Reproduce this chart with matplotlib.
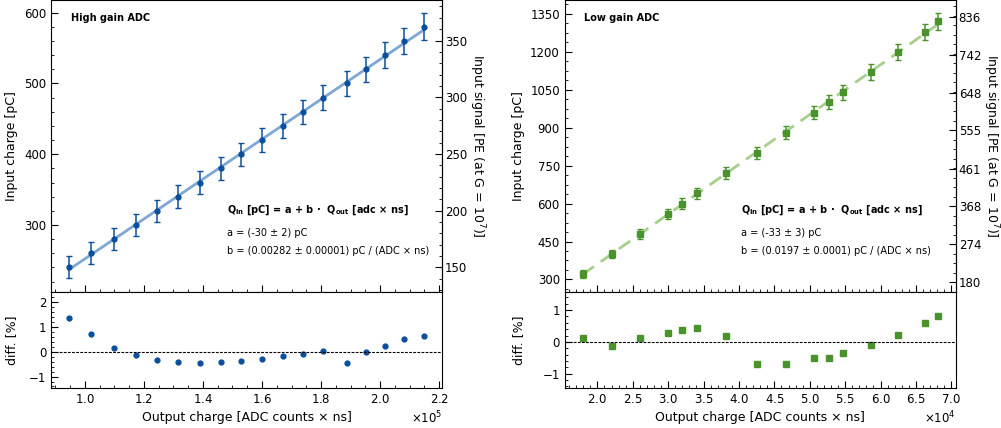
import matplotlib
matplotlib.use("Agg")
import matplotlib.pyplot as plt
import numpy as np
from matplotlib.ticker import AutoMinorLocator, MultipleLocator


# ---------------------------------------------------
# DATA
# ---------------------------------------------------

# high gain ADC
hg_qout = [0.946, 1.022, 1.098, 1.172, 1.245, 1.317, 1.389, 1.460, 1.530,
           1.600, 1.670, 1.739, 1.808, 1.887, 1.951, 2.017, 2.082, 2.150]  # x 1e5
hg_qin = [240, 260, 280, 300, 320, 340, 360, 380, 400,
          420, 440, 460, 480, 500, 520, 540, 560, 580]
hg_err = [15.6, 15.4, 15.6, 15.8, 15.9, 16.0, 16.1, 16.3, 16.4,
          16.6, 16.8, 17.0, 17.2, 17.5, 17.9, 18.4, 18.6, 19.2]
hg_diff = [1.36, 0.70, 0.16, -0.14, -0.34, -0.42, -0.45, -0.43, -0.38,
           -0.31, -0.19, -0.08, 0.03, -0.44, -0.03, 0.23, 0.51, 0.65]
hg_a, hg_b = -30, 0.00282

# low gain ADC
lg_qout = [1.790, 2.201, 2.601, 3.002, 3.202, 3.402, 3.815, 4.257,
           4.665, 5.066, 5.269, 5.466, 5.859, 6.245, 6.626, 6.814]  # x 1e4
lg_qin = [320, 400, 480, 560, 600, 640, 720, 800,
          880, 960, 1000, 1040, 1120, 1200, 1280, 1320]
lg_err = [16, 17, 18.5, 19.5, 20.5, 21.5, 23.5, 25,
          26, 27.5, 28, 29, 30.5, 31.5, 32, 32.5]
lg_diff = [0.13, -0.14, 0.13, 0.28, 0.36, 0.44, 0.20, -0.69,
           -0.68, -0.51, -0.50, -0.36, -0.11, 0.23, 0.60, 0.81]
lg_a, lg_b = -33, 0.0197

lg_pe_ticks = [180, 274, 368, 461, 555, 648, 742, 836]

PC_PER_PE = 1.602  # charge of one PE at G = 1e7, in pC

plt.rcParams["font.family"] = "DejaVu Sans"
plt.rcParams["xtick.labelsize"] = 8.5
plt.rcParams["ytick.labelsize"] = 8.5
plt.rcParams["axes.labelsize"] = 9


def style_ticks(ax):
    ax.tick_params(which="both", direction="in", top=False, right=False)
    ax.tick_params(which="major", length=5)
    ax.tick_params(which="minor", length=2.5)
    ax.xaxis.set_minor_locator(AutoMinorLocator())
    ax.yaxis.set_minor_locator(AutoMinorLocator())


def draw_panel(fig, gs, col, qout, scale, qin, err, diff, a, b,
               color, line_color, marker, ms, ls, title, a_txt, b_txt,
               diff_lim, x_step, y_step, pe_step=None, pe_ticks=None):

    ax = fig.add_subplot(gs[0, col])
    axr = fig.add_subplot(gs[1, col], sharex=ax)

    x = np.array(qout) * scale

    xfit = np.array([x.min(), x.max()])
    ax.plot(xfit, a + b * xfit, color=line_color, lw=2, ls=ls, zorder=1)

    ax.errorbar(x, qin, yerr=err, fmt=marker, color=color, ms=ms,
                elinewidth=1.1, capsize=2, capthick=1, zorder=2)

    ax.set_ylabel("Input charge [pC]")
    ax.yaxis.set_major_locator(MultipleLocator(y_step))
    ax.xaxis.set_major_locator(MultipleLocator(x_step))
    style_ticks(ax)
    ax.tick_params(labelbottom=False)

    sec = ax.secondary_yaxis(
        "right",
        functions=(lambda q: q / PC_PER_PE, lambda p: p * PC_PER_PE)
    )
    if pe_ticks is not None:
        sec.set_yticks(pe_ticks)
        sec.set_yticklabels([str(t) for t in pe_ticks])
    else:
        sec.yaxis.set_major_locator(MultipleLocator(pe_step))
    sec.yaxis.set_minor_locator(AutoMinorLocator())
    sec.tick_params(which="both", direction="in", pad=2)
    sec.tick_params(which="major", length=5)
    sec.tick_params(which="minor", length=2.5)
    sec.set_ylabel("Input signal [PE (at G = 10$^7$)]", rotation=270,
                   va="bottom", labelpad=0)

    ax.text(0.05, 0.94, title, transform=ax.transAxes, fontsize=7,
            fontweight="bold", va="center")
    ax.text(0.45, 0.28,
            r"$\mathbf{Q_{in}}$ [pC] = a + b ·  $\mathbf{Q_{out}}$ [adc × ns]",
            transform=ax.transAxes, fontsize=7, fontweight="bold",
            va="center")
    ax.text(0.45, 0.20, a_txt, transform=ax.transAxes, fontsize=7,
            va="center")
    ax.text(0.45, 0.141, b_txt, transform=ax.transAxes, fontsize=7,
            va="center")

    axr.plot(x, diff, marker, color=color, ms=ms)
    axr.axhline(0, color="black", lw=0.8, ls=(0, (2.5, 1.2)))
    axr.set_ylim(*diff_lim)
    axr.yaxis.set_major_locator(MultipleLocator(1))
    axr.set_ylabel("diff. [%]")
    axr.set_xlabel("Output charge [ADC counts × ns]")
    style_ticks(axr)
    axr.ticklabel_format(axis="x", style="sci", scilimits=(0, 0),
                         useMathText=True)

    fig.align_ylabels([ax, axr])
    return ax, axr


fig = plt.figure(figsize=(10.01, 4.28), dpi=100)
gs = fig.add_gridspec(2, 2, height_ratios=[3.03, 1], hspace=0, wspace=0.313,
                      left=0.051, right=0.955, top=1.0, bottom=0.0935)

draw_panel(fig, gs, 0, hg_qout, 1e5, hg_qin, hg_err, hg_diff, hg_a, hg_b,
           "#0b4f9c", "#7ea6d6", "o", 3.5, "-", "High gain ADC",
           "a = (-30 ± 2) pC", "b = (0.00282 ± 0.00001) pC / (ADC × ns)",
           (-1.46, 2.42), 0.2e5, 100, pe_step=50)

draw_panel(fig, gs, 1, lg_qout, 1e4, lg_qin, lg_err, lg_diff, lg_a, lg_b,
           "#4a922b", "#a6cf8c", "s", 4, (0, (5, 3)), "Low gain ADC",
           "a = (-33 ± 3) pC", "b = (0.0197 ± 0.0001) pC / (ADC × ns)",
           (-1.45, 1.58), 0.5e4, 150, pe_ticks=lg_pe_ticks)

fig.savefig("out.png", dpi=100)
